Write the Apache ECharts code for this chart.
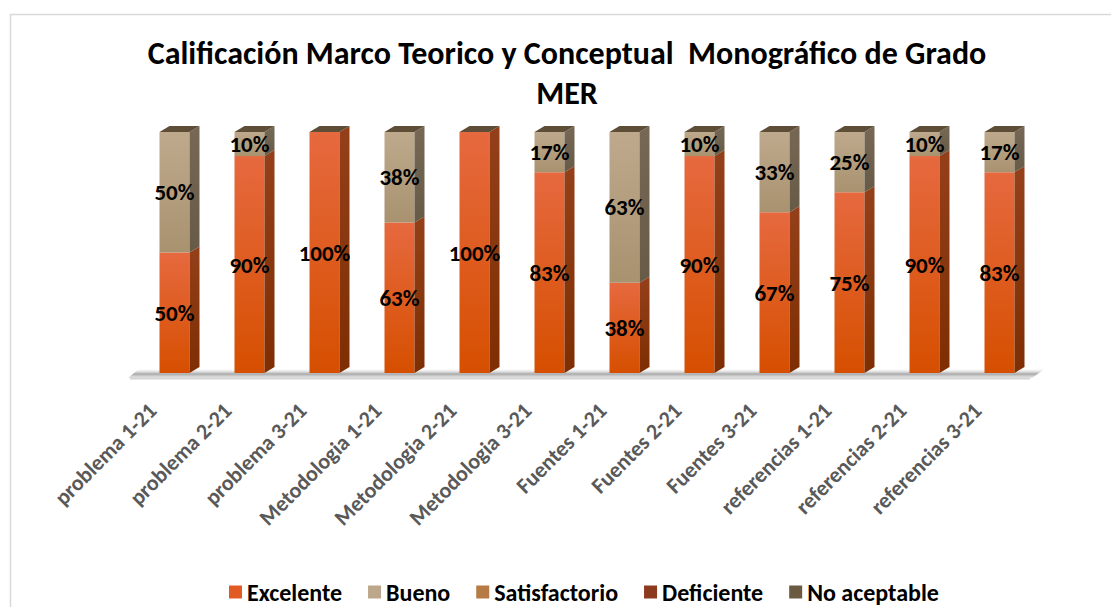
<!DOCTYPE html>
<html>
<head>
<meta charset="utf-8">
<script src="https://cdn.jsdelivr.net/npm/echarts@6/dist/echarts.min.js"></script>
<style>
html,body{margin:0;padding:0;background:#fff;}
#c{width:1111px;height:607px;}
</style>
</head>
<body>
<div id="c"></div>
<script>
const categories = ['problema 1-21','problema 2-21','problema 3-21','Metodologia 1-21','Metodologia 2-21','Metodologia 3-21','Fuentes 1-21','Fuentes 2-21','Fuentes 3-21','referencias 1-21','referencias 2-21','referencias 3-21'];
const excelente = [50, 90, 100, 62.5, 100, 83.33, 37.5, 90, 66.67, 75, 90, 83.33];
const bueno = [50, 10, 0, 37.5, 0, 16.67, 62.5, 10, 33.33, 25, 10, 16.67];
const satisfactorio = [0,0,0,0,0,0,0,0,0,0,0,0];
const deficiente = [0,0,0,0,0,0,0,0,0,0,0,0];
const noAceptable = [0,0,0,0,0,0,0,0,0,0,0,0];
const seriesNames = ['Excelente','Bueno','Satisfactorio','Deficiente','No aceptable'];
const seriesValues = [excelente, bueno, satisfactorio, deficiente, noAceptable];

const FONT = "Carlito, 'Liberation Sans Narrow', 'Open Sans', sans-serif";
const styles = [
  {front:['#E6693F','#D64F00'], side:['#94401A','#7E2E02'], legend:'#E05A22'},
  {front:['#BEA98D','#A8926F'], side:['#766854','#675A46'], legend:'#BCA78A'},
  {front:['#C48B57','#A8652F'], side:['#7F4F28','#6A3E1C'], legend:'#B87A45'},
  {front:['#9C4A35','#7A2800'], side:['#5E2512','#4E1A06'], legend:'#8C3A1E'},
  {front:['#75644B','#5F4F38'], side:['#4A3E2C','#3D3222'], legend:'#6B5A42'}
];
const totals = categories.map((c, i) => seriesValues.reduce((a, arr) => a + arr[i], 0));

function grad(c){
  return new echarts.graphic.LinearGradient(0,0,0,1,[{offset:0,color:c[0]},{offset:1,color:c[1]}]);
}

const series = seriesNames.map((name, k) => {
  const data = categories.map((c, i) => {
    let start = 0;
    for (let j = 0; j < k; j++) start += seriesValues[j][i];
    return [i, start, start + seriesValues[k][i], seriesValues[k][i]];
  });
  return {
    name: name,
    type: 'custom',
    color: styles[k].legend,
    data: data,
    encode: {x: 0, y: [1, 2]},
    renderItem: function(params, api){
      const i = api.value(0), s = api.value(1), e = api.value(2), v = api.value(3);
      if (!(v > 0)) return null;
      const p0 = api.coord([i, s]);
      const p1 = api.coord([i, e]);
      const band = api.size([1, 0])[0];
      const w = band * 0.4;
      const x0 = p0[0] - w / 2, x1 = x0 + w;
      const yb = p0[1], yt = p1[1];
      const dx = 10, dy = 6;
      const st = styles[k];
      const isTop = Math.abs(e - totals[i]) < 1e-6;
      const children = [
        {type:'rect', shape:{x:x0, y:yt, width:w, height:yb-yt}, style:{fill:grad(st.front)}},
        {type:'polygon', shape:{points:[[x1,yb],[x1+dx,yb-dy],[x1+dx,yt-dy],[x1,yt]]}, style:{fill:grad(st.side)}}
      ];
      if (isTop) {
        children.push({type:'polygon', shape:{points:[[x0,yt],[x1,yt],[x1+dx,yt-dy],[x0+dx,yt-dy]]}, style:{fill:'#5E4D37'}});
      }
      children.push({type:'text', style:{text: Math.round(v) + '%', x:(x0+x1)/2, y:(yb+yt)/2, align:'center', verticalAlign:'middle', fill:'#000', font:"bold 23px " + FONT}});
      return {type:'group', children: children};
    }
  };
});

const chart = echarts.init(document.getElementById('c'), null, {renderer:'svg'});
chart.setOption({
  animation: false,
  backgroundColor: '#fff',
  title: {
    text: 'Calificación Marco Teorico y Conceptual  Monográfico de Grado\nMER',
    left: 562, top: 28, textAlign: 'center',
    textStyle: {fontFamily: FONT, fontWeight: 'bold', fontSize: 32, color: '#000', lineHeight: 40}
  },
  legend: {
    bottom: -2, left: 224,
    itemWidth: 13, itemHeight: 13, itemGap: 26,
    icon: 'rect',
    textStyle: {fontFamily: FONT, fontWeight: 'bold', fontSize: 24, color: '#000'},
    data: seriesNames
  },
  grid: {left: 137, right: 74, top: 132, bottom: 234},
  xAxis: {
    type: 'category', data: categories,
    axisLine: {show: false}, axisTick: {show: false},
    axisLabel: {rotate: 45, margin: 12, padding: [0, 31, 0, 0], color: '#595959', fontFamily: FONT, fontWeight: 'bold', fontSize: 22, interval: 0}
  },
  yAxis: {type: 'value', min: 0, max: 100, show: false, splitLine: {show: false}},
  graphic: [
    {type:'rect', left: 8, top: 12, shape:{width: 1200, height: 700}, style:{fill:'none', stroke:'#d9d9d9', lineWidth: 1.5}, z: -10, silent: true},
    {type:'polygon', shape:{points:[[128,378],[1032,378],[1046,368],[140,368]]}, style:{fill: new echarts.graphic.LinearGradient(0,0,0,1,[{offset:0,color:'rgba(255,255,255,0)'},{offset:0.6,color:'rgba(110,110,110,0.6)'},{offset:1,color:'rgba(200,200,200,0.4)'}])}, z: 0, silent: true},
    {type:'line', shape:{x1:130, y1:378.5, x2:1030, y2:378.5}, style:{stroke:'#d4d4d4', lineWidth: 2}, z: 0, silent: true}
  ],
  series: series
});
</script>
</body>
</html>
